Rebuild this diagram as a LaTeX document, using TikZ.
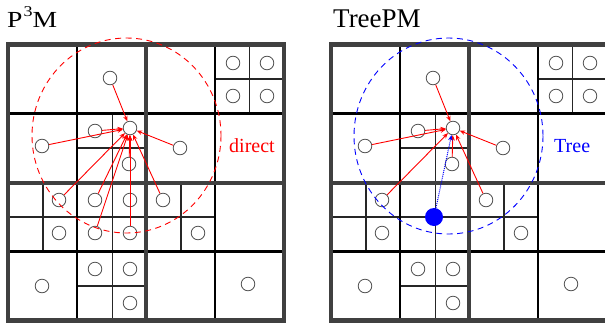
\documentclass[tikz,border=0pt]{standalone}
\usepackage{fontspec}
\setmainfont{Liberation Serif}
\usetikzlibrary{arrows.meta}
\definecolor{framecol}{HTML}{404040}
\definecolor{circcol}{HTML}{505050}
\definecolor{pmred}{HTML}{FF0000}
\definecolor{pmblue}{HTML}{0000FF}
\tikzset{
  frameline/.style={draw=framecol, line width=4.2pt},
  midline/.style={draw=framecol, line width=4pt},
  quadline/.style={draw=black, line width=2.8pt},
  subline/.style={draw=black!85, line width=1.1pt},
  ptcl/.style={circle, draw=circcol, line width=0.8pt, fill=white, minimum size=13.6pt, inner sep=0pt},
  redarr/.style={draw=pmred, line width=0.9pt, -{Stealth[length=5.5pt,width=4.5pt]}},
  bluearr/.style={draw=pmblue, line width=1pt, densely dotted, -{Stealth[length=5.5pt,width=4.5pt]}},
  rangecirc/.style={line width=0.9pt, dash pattern=on 6pt off 4.5pt},
  lbl/.style={anchor=base west, inner sep=0pt, font=\fontsize{20}{24}\selectfont},
  ttl/.style={anchor=base west, inner sep=0pt},
}
\newcommand\quadgrid{%
  % thin subdivision lines
  \draw[subline] (249.5,44.5) -- (249.5,113.5);
  \draw[subline] (215,79) -- (284,79);
  \draw[subline] (112.5,113.5) -- (112.5,182.5);
  \draw[subline] (77,148) -- (146,148);
  \draw[subline] (43,182.5) -- (43,251.5);
  \draw[subline] (112.5,182.5) -- (112.5,251.5);
  \draw[subline] (181,182.5) -- (181,251.5);
  \draw[subline] (8,217) -- (215,217);
  \draw[subline] (112.5,251.5) -- (112.5,320.5);
  \draw[subline] (77,286) -- (146,286);
  % second level
  \draw[quadline] (77,44.5) -- (77,320.5);
  \draw[quadline] (215,44.5) -- (215,320.5);
  \draw[quadline] (8,113.5) -- (284,113.5);
  \draw[quadline] (8,251.5) -- (284,251.5);
  % first level
  \draw[midline] (146,44.5) -- (146,320.5);
  \draw[midline] (8,182.5) -- (284,182.5);
  % frame
  \draw[frameline] (8,44.5) rectangle (284,320.5);
}
\newcommand\commonpts[1]{%
  \node[ptcl] (#1t) at (130,128) {};
  \node[ptcl] (#1c) at (110,78) {};
  \node[ptcl] (#1qa) at (233,63) {};
  \node[ptcl] (#1qb) at (267,63) {};
  \node[ptcl] (#1qc) at (233,96) {};
  \node[ptcl] (#1qd) at (267,96) {};
  \node[ptcl] (#1w) at (42,146) {};
  \node[ptcl] (#1s) at (95,131) {};
  \node[ptcl] (#1sb) at (129,164) {};
  \node[ptcl] (#1e) at (180,148) {};
  \node[ptcl] (#1ma) at (59,200) {};
  \node[ptcl] (#1mb) at (59,233) {};
  \node[ptcl] (#1oa) at (163,200) {};
  \node[ptcl] (#1ob) at (198,233) {};
  \node[ptcl] (#1p) at (42,286) {};
  \node[ptcl] (#1ra) at (95,269) {};
  \node[ptcl] (#1rb) at (130,269) {};
  \node[ptcl] (#1rc) at (130,303) {};
  \node[ptcl] (#1z) at (248,284) {};
}
\begin{document}
\begin{tikzpicture}[x=1pt,y=-1pt]
\useasboundingbox (0,0) rectangle (605,327);
\clip (0,0) rectangle (605,327);
\fill[white] (0,0) rectangle (605,327);

% ---------------- left panel: P3M ----------------
\node[ttl] (ltitle) at (7,27) {\scalebox{1.2}[1]{\fontsize{23}{26}\selectfont P\hspace{0.8pt}\raisebox{11pt}{\fontsize{15}{15}\selectfont 3}M}};
\begin{scope}
  \quadgrid
  \commonpts{L}
  \node[ptcl] (Lna) at (95,200) {};
  \node[ptcl] (Lnb) at (130,200) {};
  \node[ptcl] (Lnc) at (95,233) {};
  \node[ptcl] (Lnd) at (130,233) {};
  \draw[pmred, rangecirc] (126.5,135.5) ellipse [x radius=94.5, y radius=97.5];
  \foreach \s in {Lc,Lw,Ls,Le,Lsb,Lma,Lna,Lnb,Loa,Lnc,Lnd}
    \draw[redarr] (\s) -- (Lt);
  \node[lbl, text=pmred] (ldirect) at (229,152) {direct};
\end{scope}

% ---------------- right panel: TreePM ----------------
\node[ttl] (rtitle) at (333,27) {\fontsize{27}{30}\selectfont TreePM};
\begin{scope}[xshift=323pt]
  \quadgrid
  \commonpts{R}
  \draw[pmblue, rangecirc] (125.5,136) ellipse [x radius=94.5, y radius=98];
  \foreach \s in {Rc,Rw,Rs,Re,Rsb,Rma,Roa}
    \draw[redarr] (\s) -- (Rt);
  \node[circle, fill=pmblue, minimum size=18pt, inner sep=0pt] (Rbig) at (111,217) {};
  \draw[bluearr] (Rbig) -- (Rt);
  \node[lbl, text=pmblue] (rtree) at (231,152) {Tree};
\end{scope}
\end{tikzpicture}
\end{document}
